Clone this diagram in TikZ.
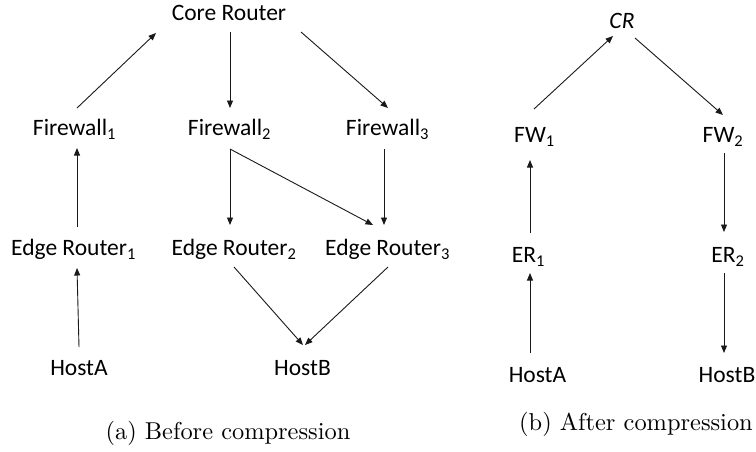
\documentclass[tikz,border=0pt]{standalone}
\usepackage{fontspec}
\usetikzlibrary{arrows.meta}
\newfontfamily\labfont{Carlito}
\newfontfamily\capfont{lmroman10-regular.otf}
\tikzset{
  lab/.style={font=\labfont\fontsize{23.5}{28}\selectfont, inner sep=0pt,
    text height=15pt, text depth=0pt, anchor=center},
  captext/.style={font=\capfont\fontsize{24.4}{29}\selectfont, inner sep=0pt},
  arr/.style={-{Triangle[length=7.5pt,width=6pt]}, line width=0.9pt, black!90},
}
\begin{document}
\begin{tikzpicture}[x=1pt, y=-1pt]
\useasboundingbox (0,0) rectangle (756,451);
% (a) full topology
\node[lab] (core) at (229,13)    {Core Router};
\node[lab] (fw1)  at (74.5,128)  {Firewall\textsubscript{1}};
\node[lab] (fw2)  at (229.5,128) {Firewall\textsubscript{2}};
\node[lab] (fw3)  at (387.5,128) {Firewall\textsubscript{3}};
\node[lab] (er1)  at (73.5,248)  {Edge Router\textsubscript{1}};
\node[lab] (er2)  at (234,248)   {Edge Router\textsubscript{2}};
\node[lab] (er3)  at (387.5,248) {Edge Router\textsubscript{3}};
\node[lab] (ha)   at (79,368)    {HostA};
\node[lab] (hb)   at (302.5,368) {HostB};
\node[captext] (capa) at (228,433) {(a) Before compression};

\draw[arr] ([shift={(2.5,-20)}]fw1.center) -- ([shift={(-73,20)}]core.center);
\draw[arr] ([shift={(1,19)}]core.center)   -- ([shift={(0.5,-20)}]fw2.center);
\draw[arr] ([shift={(72,19)}]core.center)  -- ([shift={(0.5,-20)}]fw3.center);
\draw[arr] ([shift={(0.5,21)}]fw2.center)  -- ([shift={(-4,-23)}]er2.center);
\draw[arr] ([shift={(0.5,21)}]fw2.center)  -- ([shift={(-14.5,-23)}]er3.center);
\draw[arr] ([shift={(-3.5,21)}]fw3.center) -- ([shift={(-3.5,-23)}]er3.center);
\draw[arr] ([shift={(3.5,-21)}]er1.center) -- ([shift={(2.5,20)}]fw1.center);
\draw[arr] ([shift={(0,-21)}]ha.center)    -- ([shift={(3.5,20)}]er1.center);
\draw[arr] ([shift={(0,19)}]er2.center)    -- ([shift={(0.5,-23)}]hb.center);
\draw[arr] ([shift={(0.5,19)}]er3.center)  -- ([shift={(2.5,-23)}]hb.center);

% (b) compressed topology
\node[lab] (cr)   at (622,21)    {\itshape CR};
\node[lab] (rfw1) at (534.5,135) {FW\textsubscript{1}};
\node[lab] (rfw2) at (723,135)   {FW\textsubscript{2}};
\node[lab] (rer1) at (528.5,255) {ER\textsubscript{1}};
\node[lab] (rer2) at (728,255)   {ER\textsubscript{2}};
\node[lab] (rha)  at (537.5,375) {HostA};
\node[lab] (rhb)  at (727,375)   {HostB};
\node[captext] (capb) at (636,424) {(b) After compression};

\draw[arr] ([shift={(-0.5,-26)}]rfw1.center) -- ([shift={(-9,15)}]cr.center);
\draw[arr] ([shift={(13,17)}]cr.center)      -- ([shift={(0,-20)}]rfw2.center);
\draw[arr] ([shift={(1,18)}]rfw2.center)     -- ([shift={(-4,-23)}]rer2.center);
\draw[arr] ([shift={(-4,18)}]rer2.center)    -- ([shift={(-3,-22)}]rhb.center);
\draw[arr] ([shift={(1.5,-22)}]rer1.center)  -- ([shift={(-4.5,25)}]rfw1.center);
\draw[arr] ([shift={(-7.5,-22)}]rha.center)  -- ([shift={(1.5,18)}]rer1.center);
\end{tikzpicture}
\end{document}
